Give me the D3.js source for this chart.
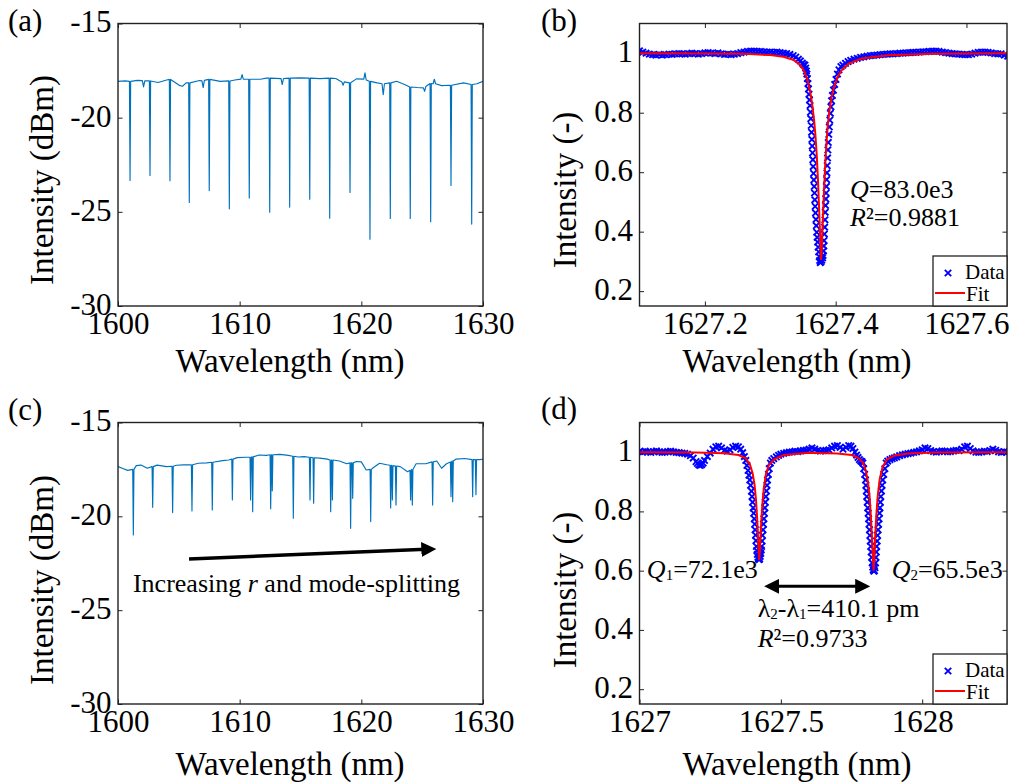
<!DOCTYPE html>
<html>
<head>
<meta charset="utf-8">
<script src="https://cdn.jsdelivr.net/npm/d3@7"></script>
<style>
  body { margin: 0; background: #fff; }
  svg text { font-family: "Liberation Serif"; fill: #000; }
  .tick text { font-size: 31px; }
</style>
</head>
<body>
<svg id="fig" width="1014" height="784"></svg>
<script>
// ---- (a) broadband spectrum: slowly varying floor + resonance dips
const aBase = [[1600.0,-18.07],[1600.6,-18.05],[1601.6,-18.02],[1602.0,-18.03],[1602.1,-18.37],[1602.2,-18.05],
  [1603.3,-18.13],[1604.0,-18.0],[1605.1,-18.30],[1605.3,-18.33],[1605.6,-18.15],[1606.7,-18.03],[1606.9,-18.05],
  [1607.0,-18.40],[1607.1,-18.02],[1608.4,-18.07],[1609.6,-18.0],[1610.1,-17.95],[1610.2,-17.71],[1610.3,-17.95],
  [1611.7,-17.96],[1612.2,-17.90],[1613.4,-17.93],[1613.5,-18.24],[1613.6,-17.92],[1615.0,-17.89],[1616.6,-17.93],
  [1617.9,-17.92],[1618.4,-18.10],[1618.5,-18.28],[1618.6,-18.10],[1619.6,-17.94],[1620.2,-17.95],[1620.3,-17.62],
  [1620.4,-18.0],[1621.3,-18.15],[1621.7,-18.20],[1621.8,-18.78],[1621.9,-18.20],[1622.9,-18.07],[1623.6,-18.25],
  [1624.6,-18.40],[1625.1,-18.42],[1625.2,-18.60],[1625.3,-18.35],[1625.9,-18.20],[1626.0,-17.96],[1626.1,-18.20],
  [1626.6,-18.30],[1628.4,-18.15],[1629.5,-18.20],[1630.0,-18.07]];
// [wavelength, floor level, dip minimum]
const aDips = [[1600.99,-18.07,-23.33],[1602.63,-18.05,-23.07],[1604.27,-17.97,-23.35],[1605.86,-18.15,-24.50],
  [1607.50,-17.97,-23.87],[1609.15,-18.05,-24.84],[1610.79,-17.96,-24.27],[1612.47,-17.90,-25.02],
  [1614.11,-17.90,-24.75],[1615.76,-17.90,-24.33],[1617.40,-17.90,-25.34],[1619.07,-18.15,-23.97],
  [1620.71,-18.07,-26.45],[1622.38,-18.15,-25.35],[1624.02,-18.37,-25.35],[1625.70,-18.19,-25.53],
  [1627.37,-18.28,-23.60],[1629.07,-18.24,-25.65]];

// ---- (c) spectrum of the second device
const cBase = [[1600.0,-17.35],[1600.4,-17.45],[1600.8,-17.55],[1601.5,-17.30],[1601.9,-17.27],[1602.4,-17.44],
  [1603.2,-17.27],[1604.0,-17.35],[1604.8,-17.28],[1605.4,-17.26],[1606.6,-17.17],[1607.3,-17.15],[1608.6,-17.03],
  [1609.1,-17.00],[1609.8,-16.87],[1610.5,-16.85],[1611.6,-16.73],[1612.2,-16.75],[1613.3,-16.70],[1614.0,-16.75],
  [1614.8,-16.84],[1615.3,-16.82],[1616.6,-16.90],[1617.2,-16.95],[1618.2,-17.05],[1618.8,-17.20],[1619.6,-17.08],
  [1620.0,-17.10],[1620.4,-17.53],[1621.0,-17.40],[1621.5,-17.17],[1622.1,-17.25],[1623.2,-17.35],[1623.8,-17.62],
  [1624.5,-17.20],[1625.3,-17.20],[1626.2,-17.05],[1626.6,-17.44],[1627.0,-17.20],[1627.8,-16.95],[1628.5,-16.92],
  [1629.7,-16.98],[1630.0,-16.96]];
const cDips = [[1601.26,-17.50,-20.99],[1602.85,-17.35,-19.52],[1604.49,-17.33,-19.80],[1606.08,-17.25,-19.71],
  [1607.75,-17.12,-19.66],[1609.40,-16.95,-19.13],[1610.90,-16.85,-19.13],[1611.07,-16.83,-19.75],
  [1612.55,-16.72,-19.60],[1612.68,-16.72,-18.64],[1614.41,-16.80,-20.10],[1615.78,-16.85,-19.13],
  [1616.08,-16.88,-19.30],[1617.48,-17.00,-19.75],[1617.62,-17.00,-19.13],[1619.12,-17.15,-20.64],
  [1619.29,-17.15,-19.04],[1620.77,-17.50,-20.28],[1622.41,-17.28,-19.55],[1622.55,-17.30,-19.13],
  [1622.85,-17.32,-19.40],[1624.05,-17.55,-19.13],[1624.19,-17.50,-19.40],[1625.86,-17.10,-19.40],
  [1627.37,-17.10,-18.95],[1627.51,-17.05,-19.22],[1629.15,-16.98,-18.95],[1629.42,-16.98,-18.85]];

// ---- (b) single resonance, measured points
const bData = [[1627.100,1.008],[1627.105,1.004],[1627.110,1.000],[1627.115,0.997],[1627.120,0.995],[1627.125,0.994],
  [1627.130,0.996],[1627.135,0.994],[1627.140,0.995],[1627.145,0.997],[1627.150,0.996],[1627.155,0.998],
  [1627.160,0.999],[1627.165,0.998],[1627.170,0.997],[1627.175,0.999],[1627.180,1.000],[1627.185,0.999],
  [1627.190,0.997],[1627.195,0.999],[1627.200,1.001],[1627.205,1.002],[1627.210,1.000],[1627.215,0.999],
  [1627.220,1.001],[1627.225,0.998],[1627.230,0.996],[1627.235,0.997],[1627.240,0.995],[1627.245,0.997],
  [1627.250,0.999],[1627.255,1.002],[1627.260,1.004],[1627.265,1.006],[1627.270,1.007],[1627.275,1.007],
  [1627.280,1.006],[1627.285,1.006],[1627.290,1.005],[1627.295,1.004],[1627.300,1.004],[1627.305,1.003],
  [1627.310,1.004],[1627.315,1.002],[1627.320,1.000],[1627.325,0.999],[1627.330,0.996],[1627.335,0.992],
  [1627.339,0.987],[1627.343,0.980],[1627.346,0.974],[1627.349,0.967],[1627.351,0.962],
  [1627.3530,0.960],[1627.3542,0.950],[1627.3552,0.940],[1627.3560,0.930],[1627.3568,0.915],[1627.3576,0.898],
  [1627.3584,0.880],[1627.3592,0.862],[1627.3600,0.843],[1627.3608,0.824],[1627.3614,0.802],[1627.3620,0.780],
  [1627.3626,0.757],[1627.3631,0.734],[1627.3636,0.710],[1627.3641,0.688],[1627.3646,0.665],[1627.3651,0.642],
  [1627.3656,0.619],[1627.3661,0.596],[1627.3666,0.574],[1627.3671,0.552],[1627.3676,0.530],[1627.3681,0.507],
  [1627.3686,0.485],[1627.3692,0.463],[1627.3698,0.441],[1627.3704,0.420],[1627.3711,0.398],[1627.3717,0.381],
  [1627.3724,0.365],[1627.3732,0.348],[1627.3740,0.332],[1627.3748,0.316],[1627.3756,0.303],[1627.3764,0.296],
  [1627.3776,0.298],[1627.3788,0.304],[1627.3800,0.312],[1627.3808,0.320],[1627.3814,0.335],[1627.3818,0.352],
  [1627.3822,0.370],[1627.3827,0.392],[1627.3832,0.415],[1627.3836,0.440],[1627.3840,0.465],[1627.3845,0.488],
  [1627.3850,0.510],[1627.3854,0.530],[1627.3858,0.552],[1627.3862,0.575],[1627.3866,0.598],[1627.3871,0.622],
  [1627.3876,0.648],[1627.3881,0.675],[1627.3887,0.700],[1627.3895,0.727],[1627.3903,0.752],[1627.3911,0.775],
  [1627.3919,0.798],[1627.3927,0.820],[1627.3937,0.840],[1627.3950,0.858],[1627.3966,0.876],[1627.3985,0.895],
  [1627.4005,0.912],[1627.4027,0.930],[1627.4050,0.944],[1627.4080,0.955],[1627.4110,0.960],
  [1627.415,0.966],[1627.419,0.972],[1627.423,0.976],[1627.428,0.980],[1627.433,0.983],[1627.438,0.986],
  [1627.443,0.988],[1627.448,0.990],[1627.453,0.992],[1627.458,0.993],[1627.463,0.994],[1627.468,0.995],
  [1627.473,0.996],[1627.478,0.997],[1627.483,0.998],[1627.488,0.998],[1627.493,0.999],[1627.498,1.000],
  [1627.503,1.000],[1627.508,1.001],[1627.513,1.002],[1627.518,1.003],[1627.523,1.003],[1627.528,1.004],
  [1627.533,1.005],[1627.538,1.005],[1627.543,1.006],[1627.548,1.007],[1627.553,1.007],[1627.558,1.006],
  [1627.563,1.004],[1627.568,1.002],[1627.573,1.000],[1627.578,0.999],[1627.583,0.998],[1627.588,0.997],
  [1627.593,0.996],[1627.598,0.995],[1627.603,0.995],[1627.608,0.997],[1627.613,1.000],[1627.618,1.003],
  [1627.623,1.004],[1627.628,1.004],[1627.633,1.003],[1627.638,1.001],[1627.643,0.999],[1627.648,0.998],
  [1627.653,0.998],[1627.658,0.994],[1627.663,0.990]];
const bFit = [[1627.100,1.000],[1627.200,0.999],[1627.260,0.998],[1627.300,0.994],[1627.320,0.988],[1627.335,0.978],
  [1627.345,0.962],[1627.352,0.940],[1627.357,0.910],[1627.361,0.870],[1627.364,0.830],[1627.367,0.775],
  [1627.369,0.725],[1627.371,0.660],[1627.373,0.570],[1627.375,0.460],[1627.3765,0.370],[1627.3775,0.305],
  [1627.3785,0.330],[1627.380,0.420],[1627.382,0.530],[1627.384,0.625],[1627.386,0.700],[1627.388,0.760],
  [1627.391,0.815],[1627.394,0.855],[1627.398,0.890],[1627.403,0.920],[1627.410,0.945],[1627.420,0.965],
  [1627.440,0.982],[1627.480,0.993],[1627.550,0.998],[1627.665,1.000]];

// ---- (d) split resonance, measured points
const dData = [[1627.000,1.002],[1627.010,1.000],[1627.020,1.003],[1627.030,1.001],[1627.040,0.999],[1627.050,1.002],
  [1627.060,1.004],[1627.070,1.001],[1627.080,0.999],[1627.090,1.000],[1627.100,1.002],[1627.110,1.003],
  [1627.120,1.001],[1627.130,0.999],[1627.140,0.998],[1627.150,0.997],[1627.160,0.996],[1627.170,0.993],
  [1627.180,0.988],[1627.190,0.980],[1627.200,0.968],[1627.205,0.962],[1627.210,0.957],[1627.215,0.955],
  [1627.220,0.958],[1627.225,0.963],[1627.230,0.972],[1627.240,0.985],[1627.250,0.997],[1627.260,1.010],
  [1627.270,1.018],[1627.280,1.020],[1627.290,1.014],[1627.300,1.006],[1627.310,1.003],[1627.320,1.008],
  [1627.330,1.016],[1627.340,1.020],[1627.350,1.018],[1627.358,1.010],[1627.365,0.998],[1627.371,0.985],
  [1627.376,0.972],[1627.380,0.955],[1627.384,0.938],[1627.387,0.922],[1627.390,0.906],[1627.393,0.888],
  [1627.396,0.868],[1627.398,0.850],[1627.400,0.831],[1627.402,0.812],[1627.404,0.794],[1627.406,0.775],
  [1627.4075,0.757],[1627.409,0.738],[1627.4105,0.720],[1627.412,0.701],[1627.4135,0.682],[1627.415,0.668],
  [1627.417,0.655],[1627.419,0.645],[1627.421,0.640],[1627.423,0.637],[1627.425,0.640],[1627.427,0.648],
  [1627.429,0.658],[1627.4305,0.670],[1627.432,0.682],[1627.4335,0.700],[1627.435,0.719],[1627.437,0.738],
  [1627.4385,0.757],[1627.440,0.775],[1627.442,0.794],[1627.4435,0.812],[1627.445,0.831],[1627.447,0.850],
  [1627.449,0.869],[1627.451,0.888],[1627.453,0.906],[1627.456,0.925],[1627.459,0.944],[1627.463,0.963],
  [1627.468,0.972],[1627.475,0.978],[1627.484,0.984],[1627.492,0.989],[1627.500,0.993],[1627.510,0.996],
  [1627.520,0.998],[1627.530,1.000],[1627.540,1.001],[1627.550,1.003],[1627.560,1.002],[1627.570,1.004],
  [1627.580,1.006],[1627.590,1.007],[1627.600,1.010],[1627.610,1.014],[1627.620,1.010],[1627.630,1.005],
  [1627.640,1.003],[1627.650,1.005],[1627.660,1.006],[1627.670,1.008],[1627.680,1.014],[1627.690,1.020],
  [1627.700,1.022],[1627.710,1.016],[1627.720,1.010],[1627.730,1.016],[1627.740,1.022],[1627.748,1.020],
  [1627.755,1.012],[1627.762,1.000],[1627.768,0.990],[1627.773,0.982],[1627.778,0.975],[1627.783,0.970],
  [1627.787,0.968],[1627.790,0.963],[1627.793,0.944],[1627.7965,0.925],[1627.7995,0.906],[1627.801,0.888],
  [1627.8025,0.869],[1627.804,0.850],[1627.8057,0.831],[1627.8073,0.812],[1627.809,0.794],[1627.8105,0.775],
  [1627.812,0.757],[1627.8136,0.738],[1627.815,0.719],[1627.8165,0.700],[1627.818,0.682],[1627.8197,0.663],
  [1627.8213,0.645],[1627.823,0.626],[1627.825,0.612],[1627.827,0.603],[1627.829,0.598],[1627.831,0.600],
  [1627.833,0.610],[1627.835,0.626],[1627.8363,0.645],[1627.8377,0.663],[1627.839,0.682],[1627.8407,0.700],
  [1627.8423,0.719],[1627.844,0.738],[1627.8457,0.757],[1627.8473,0.775],[1627.849,0.794],[1627.8505,0.812],
  [1627.852,0.831],[1627.8535,0.850],[1627.856,0.869],[1627.858,0.888],[1627.8605,0.906],[1627.864,0.925],
  [1627.868,0.944],[1627.8725,0.963],[1627.878,0.970],[1627.886,0.975],[1627.894,0.978],[1627.902,0.981],
  [1627.910,0.984],[1627.920,0.988],[1627.930,0.991],[1627.940,0.993],[1627.950,0.995],[1627.960,0.997],
  [1627.970,0.999],[1627.980,1.001],[1627.990,1.004],[1628.000,1.008],[1628.010,1.014],[1628.020,1.012],
  [1628.030,1.005],[1628.040,1.002],[1628.050,1.000],[1628.060,1.002],[1628.070,1.004],[1628.080,1.003],
  [1628.090,1.001],[1628.100,1.002],[1628.110,1.004],[1628.120,1.006],[1628.130,1.005],[1628.140,1.010],
  [1628.150,1.018],[1628.160,1.020],[1628.170,1.012],[1628.180,1.004],[1628.190,1.000],[1628.200,0.999],
  [1628.210,1.001],[1628.220,1.003],[1628.230,1.002],[1628.240,1.005],[1628.250,1.010],[1628.260,1.006],
  [1628.270,1.001],[1628.280,0.999],[1628.290,1.002],[1628.300,1.000]];
const dFit = [[1627.000,1.000],[1627.200,0.999],[1627.300,0.996],[1627.350,0.990],[1627.375,0.980],[1627.390,0.960],
  [1627.400,0.930],[1627.407,0.890],[1627.412,0.840],[1627.416,0.780],[1627.419,0.720],[1627.421,0.680],
  [1627.4235,0.635],[1627.426,0.670],[1627.428,0.710],[1627.431,0.770],[1627.435,0.830],[1627.440,0.880],
  [1627.447,0.925],[1627.457,0.955],[1627.475,0.975],[1627.510,0.990],[1627.600,0.998],[1627.700,0.995],
  [1627.750,0.990],[1627.775,0.980],[1627.790,0.965],[1627.800,0.940],[1627.808,0.900],[1627.814,0.850],
  [1627.818,0.790],[1627.822,0.720],[1627.825,0.660],[1627.828,0.600],[1627.831,0.650],[1627.834,0.720],
  [1627.838,0.790],[1627.843,0.855],[1627.850,0.910],[1627.860,0.950],[1627.875,0.975],[1627.900,0.988],
  [1627.950,0.995],[1628.050,0.999],[1628.300,1.000]];

// tick values
const wideXTicks = [1600, 1610, 1620, 1630];
const dbmTicks = [-30, -25, -20, -15];
const bXTicks = [1627.2, 1627.4, 1627.6];
const dXTicks = [1627, 1627.5, 1628];
const normTicks = [0.2, 0.4, 0.6, 0.8, 1];

const SERIF = '"Liberation Serif", "Times New Roman", serif';
const svg = d3.select('#fig').style('font-family', SERIF);
const defs = svg.append('defs');
defs.append('marker').attr('id', 'head')
  .attr('viewBox', '0 0 10 10').attr('refX', 3).attr('refY', 5)
  .attr('markerUnits', 'userSpaceOnUse').attr('markerWidth', 15).attr('markerHeight', 15)
  .attr('orient', 'auto-start-reverse')
  .append('path').attr('d', 'M0,0L10,5L0,10z').attr('fill', '#000');

const crossPath = 'M-3.2,-3.2L3.2,3.2M-3.2,3.2L3.2,-3.2';

// plain text helper, font set inline so nothing can fall back to sans
function txt(parent, x, y, size) {
  return parent.append('text').attr('x', x).attr('y', y).attr('font-size', size).style('font-family', SERIF);
}

// builds one boxed axes with inward ticks on all four sides
function makeAxes(o) {
  const x = d3.scaleLinear().domain(o.xDomain).range([o.left, o.right]);
  const y = d3.scaleLinear().domain(o.yDomain).range([o.bottom, o.top]);
  const g = svg.append('g');
  defs.append('clipPath').attr('id', 'clip-' + o.id).append('rect')
    .attr('x', o.left).attr('y', o.top).attr('width', o.right - o.left).attr('height', o.bottom - o.top);
  const fmt = d => String(d);
  const tidy = s => {
    s.select('.domain').remove();
    s.attr('font-family', null).attr('font-size', null).attr('color', '#222');
    s.selectAll('text').style('font-family', SERIF).attr('fill', '#000');
  };

  g.append('g').attr('transform', `translate(0,${o.bottom})`)
    .call(d3.axisBottom(x).tickValues(o.xTicks).tickFormat(fmt).tickSizeInner(-4.5).tickSizeOuter(0).tickPadding(5.5)).call(tidy);
  g.append('g').attr('transform', `translate(0,${o.top})`)
    .call(d3.axisTop(x).tickValues(o.xTicks).tickFormat('').tickSizeInner(-4.5).tickSizeOuter(0)).call(tidy);
  g.append('g').attr('transform', `translate(${o.left},0)`)
    .call(d3.axisLeft(y).tickValues(o.yTicks).tickFormat(fmt).tickSizeInner(-4.5).tickSizeOuter(0).tickPadding(6.5))
    .call(tidy).call(s => s.selectAll('text').attr('dy', '0.27em'));
  g.append('g').attr('transform', `translate(${o.right},0)`)
    .call(d3.axisRight(y).tickValues(o.yTicks).tickFormat('').tickSizeInner(-4.5).tickSizeOuter(0)).call(tidy);

  const plot = svg.append('g').attr('clip-path', `url(#clip-${o.id})`);

  svg.append('rect').attr('x', o.left).attr('y', o.top)
    .attr('width', o.right - o.left).attr('height', o.bottom - o.top)
    .attr('fill', 'none').attr('stroke', '#222').attr('stroke-width', 1.4);

  txt(svg, o.xTitleX, o.xTitleY, 33).attr('text-anchor', 'middle').text('Wavelength (nm)');
  txt(svg, 0, 0, 33).attr('transform', `translate(${o.yTitleX},${o.yTitleY}) rotate(-90)`)
    .attr('text-anchor', 'middle').text(o.yTitle);
  txt(svg, o.labelX, o.labelY, 31).text(o.label);

  return { x, y, plot, o };
}

// broadband trace: floor points plus a narrow notch for every dip
function traceOf(base, dips) {
  const pts = base.slice();
  dips.forEach(([w, top, lo]) => pts.push([w - 0.05, top], [w, lo], [w + 0.05, top]));
  return pts.sort((p, q) => p[0] - q[0]);
}

function drawTrace(ax, pts) {
  const line = d3.line().x(d => ax.x(d[0])).y(d => ax.y(d[1]));
  ax.plot.append('path').datum(pts).attr('d', line)
    .attr('fill', 'none').attr('stroke', '#0072bd').attr('stroke-width', 1.15).attr('stroke-linejoin', 'round');
}

function drawFitPanel(ax, data, fit) {
  ax.plot.append('g').selectAll('path').data(data).enter().append('path')
    .attr('transform', d => `translate(${ax.x(d[0])},${ax.y(d[1])})`)
    .attr('d', crossPath).attr('stroke', '#0000ff').attr('stroke-width', 1.9).attr('fill', 'none');
  const line = d3.line().x(d => ax.x(d[0])).y(d => ax.y(d[1]));
  ax.plot.append('path').datum(fit).attr('d', line)
    .attr('fill', 'none').attr('stroke', '#ff0000').attr('stroke-width', 2);

  // legend, tucked in the lower right corner
  const R = ax.o.right, B = ax.o.bottom;
  const lg = svg.append('g');
  lg.append('rect').attr('x', R - 74).attr('y', B - 50).attr('width', 74).attr('height', 50)
    .attr('fill', '#fff').attr('stroke', '#222').attr('stroke-width', 1.3);
  lg.append('path').attr('transform', `translate(${R - 59},${B - 33})`).attr('d', crossPath)
    .attr('stroke', '#0000ff').attr('stroke-width', 1.9);
  txt(lg, R - 42, B - 27, 21).text('Data');
  lg.append('line').attr('x1', R - 72).attr('x2', R - 42).attr('y1', B - 13).attr('y2', B - 13)
    .attr('stroke', '#ff0000').attr('stroke-width', 2);
  txt(lg, R - 41, B - 5, 21).text('Fit');
}

// ---------- (a)
const A = makeAxes({ id: 'a', left: 118, right: 483, top: 23.5, bottom: 306,
  xDomain: [1600, 1630], yDomain: [-30, -15], xTicks: wideXTicks, yTicks: dbmTicks,
  xTitleX: 290, xTitleY: 372, yTitle: 'Intensity (dBm)', yTitleX: 53, yTitleY: 180,
  label: '(a)', labelX: 8, labelY: 31 });
drawTrace(A, traceOf(aBase, aDips));

// ---------- (c)
const C = makeAxes({ id: 'c', left: 118, right: 483, top: 422.5, bottom: 704,
  xDomain: [1600, 1630], yDomain: [-30, -15], xTicks: wideXTicks, yTicks: dbmTicks,
  xTitleX: 290, xTitleY: 775, yTitle: 'Intensity (dBm)', yTitleX: 53, yTitleY: 580,
  label: '(c)', labelX: 8, labelY: 420 });
drawTrace(C, traceOf(cBase, cDips));
svg.append('line')
  .attr('x1', C.x(1605.84)).attr('y1', C.y(-22.27)).attr('x2', C.x(1625.3)).attr('y2', C.y(-21.76))
  .attr('stroke', '#000').attr('stroke-width', 3.5).attr('marker-end', 'url(#head)');
const cNote = txt(svg, C.x(1601.23), C.y(-24.03), 26);
cNote.append('tspan').text('Increasing ');
cNote.append('tspan').attr('font-style', 'italic').text('r');
cNote.append('tspan').text(' and mode-splitting');

// ---------- (b)
const Bp = makeAxes({ id: 'b', left: 639.5, right: 1007, top: 23.5, bottom: 306,
  xDomain: [1627.1, 1627.662], yDomain: [0.15, 1.1], xTicks: bXTicks, yTicks: normTicks,
  xTitleX: 797, xTitleY: 372, yTitle: 'Intensity (-)', yTitleX: 576, yTitleY: 190,
  label: '(b)', labelX: 541, labelY: 31 });
drawFitPanel(Bp, bData, bFit);
const bq = txt(svg, Bp.x(1627.422), Bp.y(0.514), 26);
bq.append('tspan').attr('font-style', 'italic').text('Q');
bq.append('tspan').text('=83.0e3');
const br = txt(svg, Bp.x(1627.422), Bp.y(0.42), 26);
br.append('tspan').attr('font-style', 'italic').text('R');
br.append('tspan').text('\u00b2=0.9881');

// ---------- (d)
const D = makeAxes({ id: 'd', left: 639.5, right: 1007, top: 422.5, bottom: 704,
  xDomain: [1627, 1628.3], yDomain: [0.15, 1.1], xTicks: dXTicks, yTicks: normTicks,
  xTitleX: 797, xTitleY: 775, yTitle: 'Intensity (-)', yTitleX: 576, yTitleY: 590,
  label: '(d)', labelX: 541, labelY: 419 });
drawFitPanel(D, dData, dFit);

function subText(x, y, parts) {
  const t = txt(svg, x, y, 26);
  parts.forEach(p => {
    const s = t.append('tspan').text(p.t);
    if (p.i) s.attr('font-style', 'italic');
    if (p.sub) s.attr('font-size', 15).attr('dy', 2);
    if (p.back) s.attr('dy', -2);
  });
}
subText(D.x(1627.026), D.y(0.576), [{ t: 'Q', i: true }, { t: '1', sub: true }, { t: '=72.1e3', back: true }]);
subText(D.x(1627.892), D.y(0.576), [{ t: 'Q', i: true }, { t: '2', sub: true }, { t: '=65.5e3', back: true }]);
subText(D.x(1627.418), D.y(0.445), [{ t: '\u03bb' }, { t: '2', sub: true }, { t: '-\u03bb', back: true },
  { t: '1', sub: true }, { t: '=410.1 pm', back: true }]);
const dr = txt(svg, D.x(1627.418), D.y(0.341), 26);
dr.append('tspan').attr('font-style', 'italic').text('R');
dr.append('tspan').text('\u00b2=0.9733');
svg.append('line')
  .attr('x1', D.x(1627.478)).attr('y1', D.y(0.547)).attr('x2', D.x(1627.779)).attr('y2', D.y(0.547))
  .attr('stroke', '#000').attr('stroke-width', 3).attr('marker-start', 'url(#head)').attr('marker-end', 'url(#head)');
</script>
</body>
</html>
